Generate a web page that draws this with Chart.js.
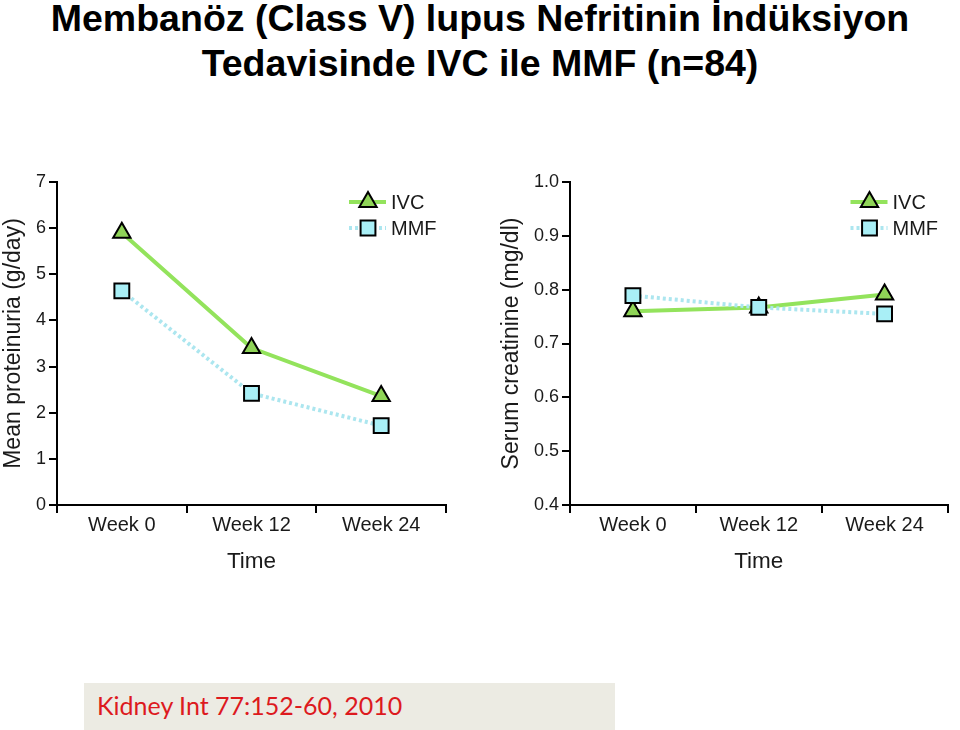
<!DOCTYPE html>
<html>
<head>
<meta charset="utf-8">
<script src="https://cdn.jsdelivr.net/npm/chart.js@4.4.0/dist/chart.umd.min.js"></script>
<style>
  html, body { margin: 0; padding: 0; background: #fff; }
  body { width: 960px; height: 730px; position: relative; overflow: hidden; }
  .title {
    position: absolute; left: 0; top: -4px; width: 960px;
    text-align: center; font: bold 37.5px "Liberation Sans", Arial, sans-serif;
    line-height: 45px; color: #000;
  }
  .panel { position: absolute; top: 160px; height: 430px; }
  #left { left: 0; width: 460px; }
  #right { left: 495px; width: 465px; }
  .source {
    position: absolute; left: 84px; top: 683px; width: 531px; height: 47px;
    background: #ecebe3;
  }
  .source span {
    position: absolute; left: 13px; top: 7px;
    font: 25px Lato, sans-serif; color: #dd1a1e; white-space: nowrap;
  }
</style>
</head>
<body>
<div class="title">Membanöz (Class V) lupus Nefritinin İndüksiyon<br>Tedavisinde IVC ile MMF (n=84)</div>
<div class="panel" id="left"><canvas id="proteinuriaChart"></canvas></div>
<div class="panel" id="right"><canvas id="creatinineChart"></canvas></div>
<div class="source"><span>Kidney Int 77:152-60, 2010</span></div>

<script>
// values
const weeks = ['Week 0', 'Week 12', 'Week 24'];
const seriesNames = ['IVC', 'MMF'];
const proteinuriaIVC = [5.9, 3.4, 2.36];
const proteinuriaMMF = [4.64, 2.42, 1.72];
const creatinineIVC = [0.76, 0.767, 0.791];
const creatinineMMF = [0.789, 0.767, 0.755];
const proteinuriaRange = [0, 7, 1];     // min, max, step
const creatinineRange = [0.4, 1.0, 0.1];

const ink = '#1a1a1a';
const ivcStyle = {
    borderColor: '#93e35c', pointBackgroundColor: '#8fd457',
    pointStyle: 'triangle', pointRadius: 10, dash: []
};
const mmfStyle = {
    borderColor: '#ace6ef', pointBackgroundColor: '#a9eff6',
    pointStyle: 'rect', pointRadius: 10.5, dash: [3, 3]
};

// legend drawn inside the plot area, line sample + marker
const insideLegend = {
    id: 'insideLegend',
    afterDraw(chart) {
        const ctx = chart.ctx;
        const area = chart.chartArea;
        const x0 = area.right - 97;
        [ivcStyle, mmfStyle].forEach((st, i) => {
            const y = area.top + 20 + i * 26;
            ctx.save();
            ctx.strokeStyle = st.borderColor;
            ctx.lineWidth = 4;
            ctx.setLineDash(st.dash);
            ctx.beginPath();
            ctx.moveTo(x0, y);
            ctx.lineTo(x0 + 37, y);
            ctx.stroke();
            ctx.setLineDash([]);
            ctx.fillStyle = st.pointBackgroundColor;
            ctx.strokeStyle = '#000';
            ctx.lineWidth = 2;
            Chart.helpers.drawPoint(ctx, {
                pointStyle: st.pointStyle, radius: st.pointRadius, rotation: 0, borderWidth: 2
            }, x0 + 19, y);
            ctx.fillStyle = ink;
            ctx.font = '20px "Liberation Sans", Arial, sans-serif';
            ctx.textBaseline = 'middle';
            ctx.fillText(seriesNames[i], x0 + 42, y + 1);
            ctx.restore();
        });
    }
};

function makeDataset(label, data, st, order) {
    return {
        label: label,
        data: data,
        borderColor: st.borderColor,
        borderWidth: 4,
        borderDash: st.dash,
        pointStyle: st.pointStyle,
        pointRadius: st.pointRadius,
        pointHoverRadius: st.pointRadius,
        pointBackgroundColor: st.pointBackgroundColor,
        pointBorderColor: '#000',
        pointBorderWidth: 2,
        tension: 0,
        order: order
    };
}

function buildChart(canvasId, ivc, mmf, range, yTitle, opts) {
    return new Chart(document.getElementById(canvasId), {
        type: 'line',
        data: {
            labels: weeks,
            datasets: [
                makeDataset(seriesNames[0], ivc, ivcStyle, 1),
                makeDataset(seriesNames[1], mmf, mmfStyle, 0)
            ]
        },
        options: {
            responsive: true,
            maintainAspectRatio: false,
            animation: false,
            events: [],
            layout: { padding: { top: 22, right: opts.padRight, left: 0, bottom: 0 } },
            plugins: { legend: { display: false }, tooltip: { enabled: false } },
            scales: {
                x: {
                    offset: true,
                    border: { color: '#000', width: 2 },
                    grid: {
                        offset: true, drawOnChartArea: false, drawTicks: true,
                        tickLength: 8, color: '#000', lineWidth: 2
                    },
                    ticks: {
                        color: ink, padding: 0,
                        font: { family: '"Liberation Sans", Arial, sans-serif', size: 20 }
                    },
                    title: {
                        display: true, text: 'Time', color: ink,
                        font: { family: '"Liberation Sans", Arial, sans-serif', size: 22.5 },
                        padding: { top: 0, bottom: 15 }
                    },
                    afterFit: s => { s.height = 85; }
                },
                y: {
                    min: range[0],
                    max: range[1],
                    border: { color: '#000', width: 2 },
                    grid: {
                        drawOnChartArea: false, drawTicks: true,
                        tickLength: 8, color: '#000', lineWidth: 2
                    },
                    ticks: {
                        stepSize: range[2], color: ink, padding: 3,
                        font: { family: '"Liberation Sans", Arial, sans-serif', size: 18 },
                        callback: v => opts.decimals ? Number(v).toFixed(opts.decimals) : v
                    },
                    title: {
                        display: true, text: yTitle, color: ink,
                        font: { family: '"Liberation Sans", Arial, sans-serif', size: 23 },
                        padding: { top: opts.titlePad, bottom: 0 }
                    },
                    afterFit: s => { s.width = opts.axisWidth; }
                }
            }
        },
        plugins: [insideLegend]
    });
}

buildChart('proteinuriaChart', proteinuriaIVC, proteinuriaMMF, proteinuriaRange,
    'Mean proteinuria (g/day)', { padRight: 14, axisWidth: 57, titlePad: 0, decimals: 0 });
buildChart('creatinineChart', creatinineIVC, creatinineMMF, creatinineRange,
    'Serum creatinine (mg/dl)', { padRight: 2, axisWidth: 75, titlePad: 3, decimals: 1 });
</script>
</body>
</html>
